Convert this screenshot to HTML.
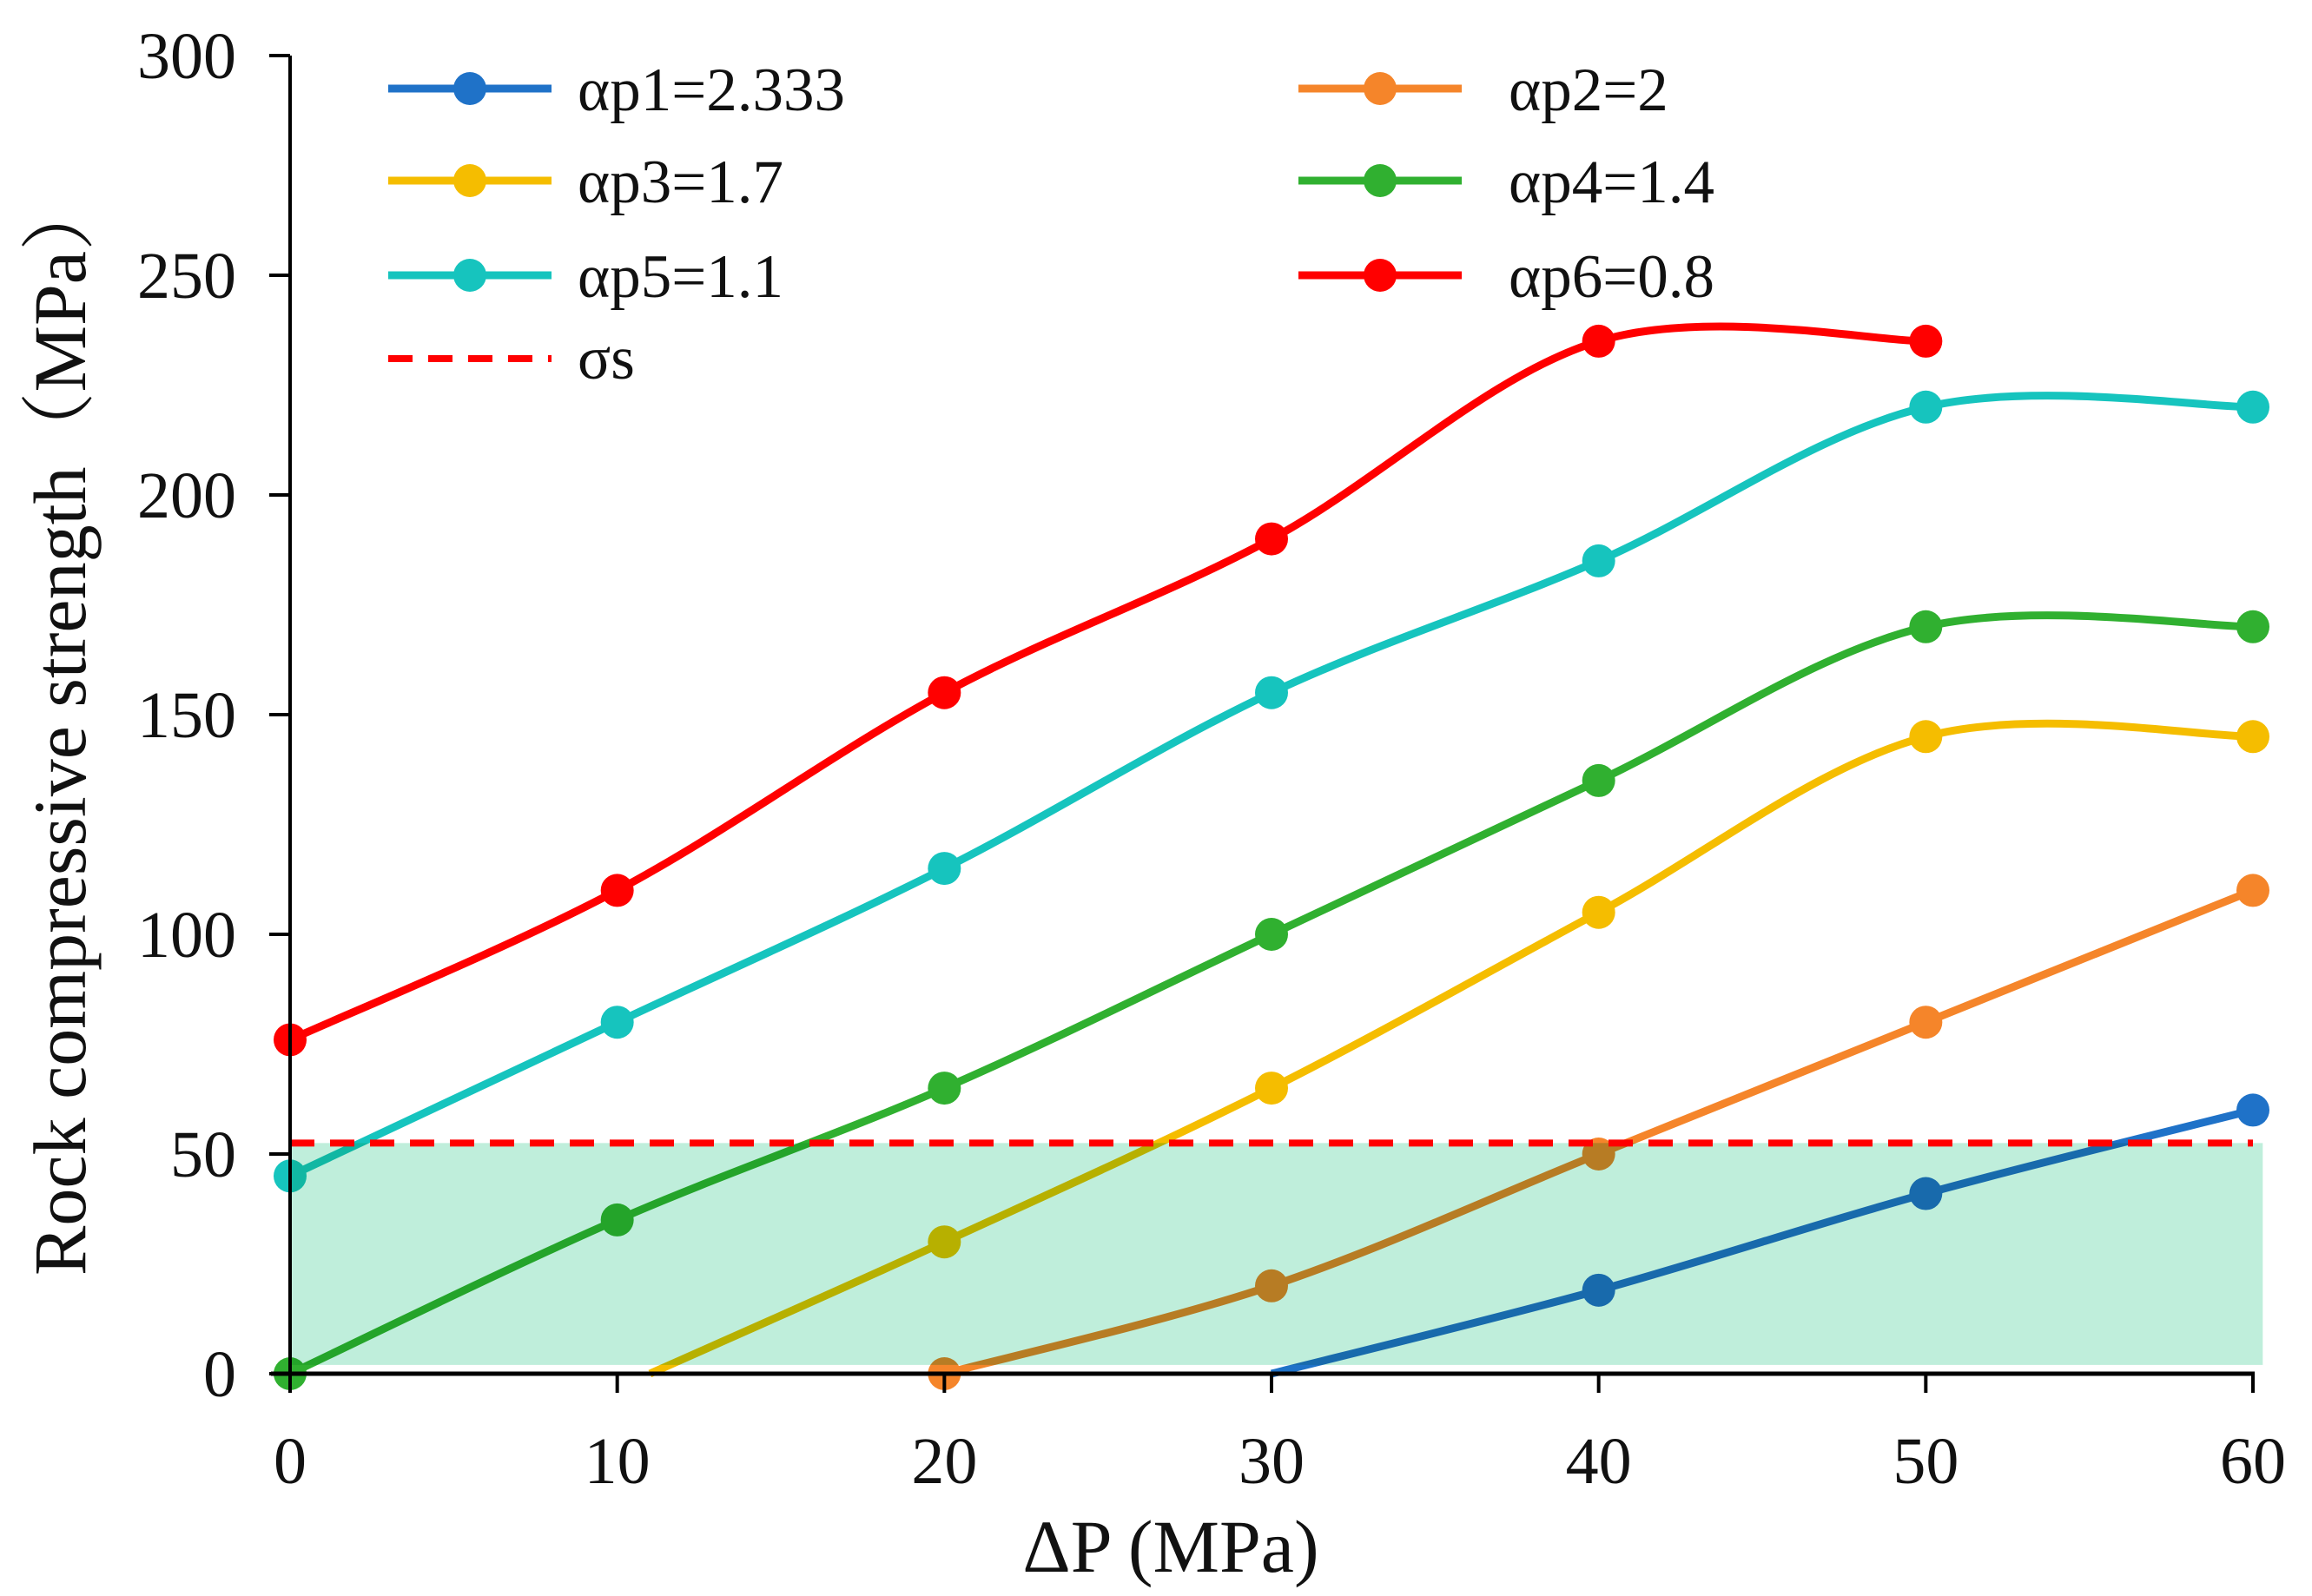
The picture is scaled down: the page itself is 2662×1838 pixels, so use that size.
<!DOCTYPE html>
<html><head><meta charset="utf-8"><style>
html,body{margin:0;padding:0;background:#fff;}
svg{display:block;font-family:"Liberation Serif","Noto Serif CJK SC",serif;}
</style></head><body>
<svg id="chart" width="2662" height="1838" viewBox="0 0 2662 1838" xmlns="http://www.w3.org/2000/svg">
<g id="series-layer"></g>
<g id="axes"></g>
<g id="legend"></g>
<text transform="translate(98,836) rotate(-90)" text-anchor="middle" font-size="86" fill="#111">Rock compressive strength（MPa）</text>
<text x="1348" y="1810" text-anchor="middle" font-size="86" fill="#111">ΔP (MPa)</text>
</svg>
<script>
const xTicks=[0,10,20,30,40,50,60];
const yTicks=[0,50,100,150,200,250,300];
const seriesNames=["αp1=2.333","αp2=2","αp3=1.7","αp4=1.4","αp5=1.1","αp6=0.8"];
const seriesColors=["#1f72c8","#f5852a","#f5bd00","#30b030","#16c4be","#ff0000"];
const ap1X=[30,40,50,60], ap1Y=[0,19,41,60], ap1M=[false,true,true,true];
const ap2X=[20,30,40,50,60], ap2Y=[0,20,50,80,110], ap2M=[true,true,true,true,true];
const ap3X=[11,20,30,40,50,60], ap3Y=[0,30,65,105,145,145], ap3M=[false,true,true,true,true,true];
const ap4X=[0,10,20,30,40,50,60], ap4Y=[0,35,65,100,135,170,170], ap4M=[true,true,true,true,true,true,true];
const ap5X=[0,10,20,30,40,50,60], ap5Y=[45,80,115,155,185,220,220], ap5M=[true,true,true,true,true,true,true];
const ap6X=[0,10,20,30,40,50], ap6Y=[76,110,155,190,235,235], ap6M=[true,true,true,true,true,true];
const sigmaS=[52.5];
const bandRange=[2,52.5];
const bandX=[0,60.3];

const NS="http://www.w3.org/2000/svg";
const X0=334,X1=2594,Y0=1582,Y1=64;
function xs(v){return X0+v*(X1-X0)/60;}
function ys(v){return Y0-v*(Y0-Y1)/300;}
function mk(tag,attrs,parent){const e=document.createElementNS(NS,tag);for(const k in attrs)e.setAttribute(k,attrs[k]);parent.appendChild(e);return e;}
const sl=document.getElementById('series-layer');
const ax=document.getElementById('axes');
const lg=document.getElementById('legend');

function smoothPath(px,py){
  const p=px.map((x,i)=>[xs(x),ys(py[i])]);
  let d="M"+p[0][0]+","+p[0][1];
  for(let i=0;i<p.length-1;i++){
    const a=p[i-1]||p[i],b=p[i],c=p[i+1],e=p[i+2]||c;
    const c1=[b[0]+(c[0]-a[0])/6,b[1]+(c[1]-a[1])/6];
    const c2=[c[0]-(e[0]-b[0])/6,c[1]-(e[1]-b[1])/6];
    d+=" C"+c1+" "+c2+" "+c;
  }
  return d;
}
const allX=[ap1X,ap2X,ap3X,ap4X,ap5X,ap6X];
const allY=[ap1Y,ap2Y,ap3Y,ap4Y,ap5Y,ap6Y];
const allM=[ap1M,ap2M,ap3M,ap4M,ap5M,ap6M];
for(let s=0;s<6;s++){
  const g=mk('g',{},sl);
  
  
  const path=mk('path',{d:smoothPath(allX[s],allY[s]),fill:'none',stroke:seriesColors[s],'stroke-width':9},g);
  
  
  allX[s].forEach((x,i)=>{
    if(!allM[s][i])return;
    const c=mk('circle',{cx:xs(x),cy:ys(allY[s][i]),r:19,fill:seriesColors[s]},g);
    
    
  });
}
const band=mk('rect',{x:xs(bandX[0]),y:ys(bandRange[1]),width:xs(bandX[1])-xs(bandX[0]),height:ys(bandRange[0])-ys(bandRange[1]),fill:'#bfeedb',style:'mix-blend-mode:multiply'},sl);


const sig=mk('line',{x1:xs(0),x2:xs(60),y1:ys(sigmaS[0]),y2:ys(sigmaS[0]),stroke:'#ff0000','stroke-width':8,'stroke-dasharray':'28 18'},sl);



const ya=mk('line',{x1:X0,x2:X0,y1:Y1,y2:Y0,stroke:'#000','stroke-width':4},ax);


const xa=mk('line',{x1:X0-22,x2:X1+2,y1:Y0,y2:Y0,stroke:'#000','stroke-width':5},ax);


yTicks.forEach(v=>{
  const t=mk('line',{x1:X0-24,x2:X0,y1:ys(v),y2:ys(v),stroke:'#000','stroke-width':4},ax);
  
  
  const l=mk('text',{x:272,y:ys(v)+26,'text-anchor':'end','font-size':76,fill:'#111'},ax);
  l.textContent=v;
  
  
});
xTicks.forEach(v=>{
  const t=mk('line',{x1:xs(v),x2:xs(v),y1:Y0,y2:Y0+22,stroke:'#000','stroke-width':4},ax);
  
  
  const l=mk('text',{x:xs(v),y:1708,'text-anchor':'middle','font-size':76,fill:'#111'},ax);
  l.textContent=v;
  
  
});

const legendPos=[[447,102],[1495,102],[447,208],[1495,208],[447,317],[1495,317]];
const textX=[665,1737];
for(let s=0;s<6;s++){
  const [lx,ly]=legendPos[s];
  const g=mk('g',{},lg);
  
  
  mk('line',{x1:lx,x2:lx+188,y1:ly,y2:ly,stroke:seriesColors[s],'stroke-width':9},g);
  mk('circle',{cx:lx+94,cy:ly,r:19,fill:seriesColors[s]},g);
  const t=mk('text',{x:textX[s%2],y:ly+25,'font-size':71,fill:'#111'},g);
  t.textContent=seriesNames[s];
}
const gs=mk('g',{},lg);


mk('line',{x1:447,x2:635,y1:413,y2:413,stroke:'#ff0000','stroke-width':8,'stroke-dasharray':'28 18'},gs);
const ts=mk('text',{x:665,y:436,'font-size':71,fill:'#111'},gs);
ts.textContent='σs';
</script>
</body></html>
